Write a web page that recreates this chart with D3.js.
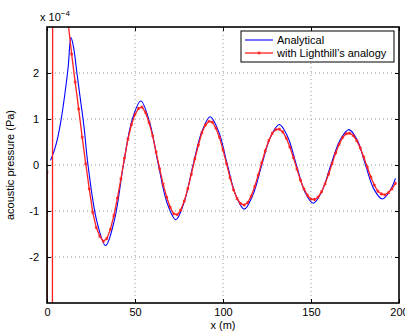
<!DOCTYPE html>
<html lang="en">
<head>
    <meta charset="UTF-8">
    <title>Acoustic pressure</title>
    <script src="https://cdnjs.cloudflare.com/ajax/libs/d3/7.8.5/d3.min.js"></script>
    <style>
        body { margin: 0; background: white; }
        svg { font-family: "Liberation Sans", Arial, sans-serif; }
        .grid line { stroke: #999; stroke-dasharray: 1 3; }
        .tick text { font-size: 11px; fill: black; }
    </style>
</head>
<body>
<div id="chart"></div>
<script>
    // blue: analytical solution (x in m, pressure in 1e-4 Pa)
    const analyticalX = [2, 4, 6, 8, 10, 12, 13.6, 15, 17, 19, 21, 23.3, 28.3, 33.3, 38.3, 43.4,
        48.3, 53.3, 58.3, 63.3, 68.2, 73.2, 78, 83, 88, 92.7, 97.6, 102.5, 107.3, 112.1, 117, 122,
        127, 132, 136.8, 141.7, 146.5, 151.3, 156.2, 161.3, 166.5, 171.6, 176.4, 181, 185.7, 190.5,
        195, 198];
    const analyticalP = [0.10, 0.30, 0.58, 0.98, 1.5, 2.12, 2.77, 2.58, 2.0, 1.42, 0.84, 0, -1.22,
        -1.75, -1.2, 0, 0.97, 1.39, 0.93, 0, -0.82, -1.19, -0.8, 0, 0.73, 1.05, 0.72, 0, -0.66,
        -0.96, -0.65, 0, 0.61, 0.88, 0.61, 0, -0.58, -0.83, -0.57, 0, 0.54, 0.77, 0.53, 0, -0.52,
        -0.74, -0.55, -0.29];

    // red: with Lighthill's analogy, one marker every 2 m
    const lighthillX = d3.range(0, 199, 2);
    const lighthillP = [-0.16, -60, 45, 14, 7, 4.5, 3.1, 2.41, 1.80, 1.22, 0.6, 0.03, -0.52, -1.03,
        -1.36, -1.55, -1.66, -1.60, -1.40, -1.10, -0.72, -0.30, 0.15, 0.56, 0.88, 1.10, 1.23, 1.26,
        1.14, 0.92, 0.64, 0.28, -0.08, -0.42, -0.70, -0.92, -1.06, -1.08, -0.98, -0.78, -0.52, -0.2,
        0.13, 0.43, 0.70, 0.87, 0.95, 0.93, 0.80, 0.60, 0.33, 0.03, -0.28, -0.54, -0.73, -0.84, -0.87,
        -0.82, -0.68, -0.47, -0.22, 0.05, 0.31, 0.53, 0.69, 0.77, 0.78, 0.72, 0.58, 0.39, 0.16, -0.09,
        -0.33, -0.52, -0.66, -0.74, -0.75, -0.70, -0.58, -0.41, -0.20, 0.03, 0.26, 0.45, 0.60, 0.68,
        0.69, 0.64, 0.53, 0.37, 0.17, -0.05, -0.26, -0.44, -0.57, -0.63, -0.65, -0.60, -0.52, -0.40];

    const xTicks = [0, 50, 100, 150, 200];
    const yTicks = [-2, -1, 0, 1, 2];
    const seriesNames = ['Analytical', 'with Lighthill\u2019s analogy'];

    const width = 405, height = 331;
    const margin = {left: 47, right: 6, top: 27, bottom: 28};
    const innerW = width - margin.left - margin.right;
    const innerH = height - margin.top - margin.bottom;

    const svg = d3.select('#chart').append('svg')
        .attr('width', width)
        .attr('height', height);

    const g = svg.append('g')
        .attr('transform', `translate(${margin.left},${margin.top})`);

    const x = d3.scaleLinear().domain([0, 200]).range([0, innerW]);
    const y = d3.scaleLinear().domain([-3, 3]).range([innerH, 0]);

    // dotted grid
    const grid = g.append('g').attr('class', 'grid');
    grid.selectAll('.gx').data(xTicks.slice(1, -1)).enter().append('line')
        .attr('x1', d => x(d)).attr('x2', d => x(d))
        .attr('y1', 0).attr('y2', innerH);
    grid.selectAll('.gy').data(yTicks).enter().append('line')
        .attr('x1', 0).attr('x2', innerW)
        .attr('y1', d => y(d)).attr('y2', d => y(d));

    svg.append('clipPath').attr('id', 'clip')
        .append('rect').attr('width', innerW).attr('height', innerH);

    const plot = g.append('g').attr('clip-path', 'url(#clip)');

    const blueLine = d3.line()
        .x(d => x(d[0])).y(d => y(d[1]))
        .curve(d3.curveCatmullRom.alpha(0.5));
    plot.append('path')
        .datum(analyticalX.map((v, i) => [v, analyticalP[i]]))
        .attr('d', blueLine)
        .attr('fill', 'none')
        .attr('stroke', '#0000ff')
        .attr('stroke-width', 1.1);

    const red = '#ff2020';
    const redData = lighthillX.map((v, i) => [v, lighthillP[i]]);
    const redLine = d3.line().x(d => x(d[0])).y(d => y(d[1]));
    plot.append('path')
        .datum(redData)
        .attr('d', redLine)
        .attr('fill', 'none')
        .attr('stroke', red)
        .attr('stroke-width', 1.3);

    const marker = d3.symbol().type(d3.symbolAsterisk || d3.symbolCross).size(7);
    plot.selectAll('.mk').data(redData.filter(d => d[1] > -3.2 && d[1] < 3.2)).enter()
        .append('path')
        .attr('d', marker)
        .attr('transform', d => `translate(${x(d[0])},${y(d[1])})`)
        .attr('fill', 'none')
        .attr('stroke', red)
        .attr('stroke-width', 1);

    // axes with inward ticks on all sides
    const fmt = d => String(d);
    const xAxis = d3.axisBottom(x).tickValues(xTicks).tickSizeInner(-4).tickSizeOuter(0)
        .tickPadding(5).tickFormat(fmt);
    const yAxis = d3.axisLeft(y).tickValues(yTicks).tickSizeInner(-4).tickSizeOuter(0)
        .tickPadding(8).tickFormat(fmt);
    g.append('g').attr('transform', `translate(0,${innerH})`).call(xAxis)
        .call(a => a.select('.domain').remove());
    g.append('g').call(yAxis).call(a => a.select('.domain').remove());
    g.append('g').call(d3.axisTop(x).tickValues(xTicks).tickSizeInner(-4).tickSizeOuter(0).tickFormat(''))
        .call(a => a.select('.domain').remove());
    g.append('g').attr('transform', `translate(${innerW},0)`)
        .call(d3.axisRight(y).tickValues(yTicks).tickSizeInner(-4).tickSizeOuter(0).tickFormat(''))
        .call(a => a.select('.domain').remove());
    g.selectAll('.tick line').attr('stroke', 'black');

    g.append('rect')
        .attr('width', innerW).attr('height', innerH)
        .attr('fill', 'none')
        .attr('stroke', 'black')
        .attr('stroke-width', 1.6);

    // axis labels
    const expo = svg.append('text')
        .attr('x', margin.left - 7).attr('y', 21)
        .attr('font-size', 11);
    expo.append('tspan').text('x 10');
    expo.append('tspan').attr('dy', -5).attr('font-size', 8).text('\u22124');

    svg.append('text')
        .attr('x', margin.left + innerW / 2).attr('y', 329)
        .attr('text-anchor', 'middle')
        .attr('font-size', 11)
        .text('x (m)');

    svg.append('text')
        .attr('transform', `translate(14,${margin.top + innerH / 2}) rotate(-90)`)
        .attr('text-anchor', 'middle')
        .attr('font-size', 11)
        .text('acoustic pressure (Pa)');

    // legend
    const legend = svg.append('g').attr('transform', 'translate(241,31)');
    legend.append('rect')
        .attr('width', 153).attr('height', 31)
        .attr('fill', 'white').attr('stroke', 'black').attr('stroke-width', 1);
    const colors = ['#0000ff', red];
    seriesNames.forEach((name, i) => {
        const row = legend.append('g').attr('transform', `translate(0,${9 + i * 13})`);
        row.append('line')
            .attr('x1', 4).attr('x2', 32)
            .attr('stroke', colors[i]).attr('stroke-width', i ? 1.3 : 1.1);
        if (i === 1) {
            row.append('path').attr('d', marker).attr('transform', 'translate(18,0)')
                .attr('fill', 'none').attr('stroke', colors[i]).attr('stroke-width', 1);
        }
        row.append('text')
            .attr('x', 36).attr('y', 4)
            .attr('font-size', 11)
            .text(name);
    });
</script>
</body>
</html>
